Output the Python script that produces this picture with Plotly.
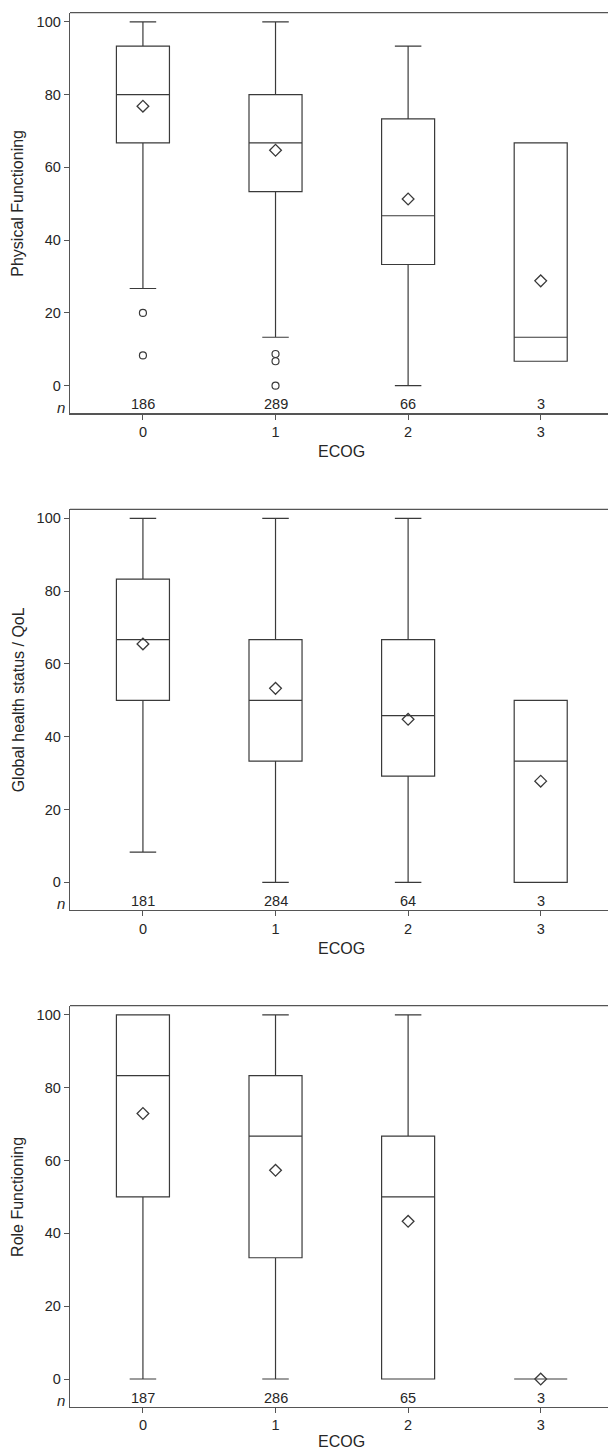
import plotly.graph_objects as go

# ---------------- data ----------------
ecog = [0, 1, 2, 3]
ecog_labels = ["0", "1", "2", "3"]

titles = ["Physical Functioning", "Global health status / QoL", "Role Functioning"]

pf_q1 = [66.7, 53.3, 33.3, 6.7]
pf_med = [80.0, 66.7, 46.7, 13.3]
pf_q3 = [93.3, 80.0, 73.3, 66.7]
pf_lo = [26.7, 13.3, 0.0, 6.7]
pf_hi = [100.0, 100.0, 93.3, 66.7]
pf_mean = [76.8, 64.7, 51.3, 28.8]
pf_out_x = [0, 0, 1, 1, 1]
pf_out_y = [20.0, 8.3, 8.7, 6.7, 0.0]
pf_n = [186, 289, 66, 3]

ql_q1 = [50.0, 33.3, 29.2, 0.0]
ql_med = [66.7, 50.0, 45.8, 33.3]
ql_q3 = [83.3, 66.7, 66.7, 50.0]
ql_lo = [8.3, 0.0, 0.0, 0.0]
ql_hi = [100.0, 100.0, 100.0, 50.0]
ql_mean = [65.5, 53.3, 44.8, 27.8]
ql_out_x = []
ql_out_y = []
ql_n = [181, 284, 64, 3]

rf_q1 = [50.0, 33.3, 0.0, 0.0]
rf_med = [83.3, 66.7, 50.0, 0.0]
rf_q3 = [100.0, 83.3, 66.7, 0.0]
rf_lo = [0.0, 0.0, 0.0, 0.0]
rf_hi = [100.0, 100.0, 100.0, 0.0]
rf_mean = [72.9, 57.3, 43.3, 0.0]
rf_out_x = []
rf_out_y = []
rf_n = [187, 286, 65, 3]

y_ticks = [0, 20, 40, 60, 80, 100]

panels = [
    (pf_q1, pf_med, pf_q3, pf_lo, pf_hi, pf_mean, pf_out_x, pf_out_y, pf_n),
    (ql_q1, ql_med, ql_q3, ql_lo, ql_hi, ql_mean, ql_out_x, ql_out_y, ql_n),
    (rf_q1, rf_med, rf_q3, rf_lo, rf_hi, rf_mean, rf_out_x, rf_out_y, rf_n),
]

# ---------------- layout geometry ----------------
W, H = 608, 1451
FONT = "Liberation Sans, Arial, sans-serif"
LINE = "#3a3a3a"
AXIS = "#555555"
TEXT = "#262626"
x_left_px = 70.0
x_domain = [x_left_px / W, 1.0]
x_range = [-0.55, 3.5075]
y_range = [-7.6, 102.5]
panel_tops = [12.7, 509.3, 1005.7]
panel_bottoms = [413.3, 910.0, 1406.7]
ecog_title_y = [451.7, 948.0, 1441.0]

fig = go.Figure()
layout = dict(
    width=W, height=H,
    margin=dict(l=0, r=0, t=0, b=0),
    paper_bgcolor="white", plot_bgcolor="white",
    showlegend=False,
    font=dict(family=FONT, size=14, color=TEXT),
)
annotations = []
shapes = []

for i, (q1, med, q3, lo, hi, mn, ox, oy, n) in enumerate(panels):
    k = "" if i == 0 else str(i + 1)
    xa, ya = "x" + k, "y" + k
    fig.add_trace(go.Box(
        x=ecog, q1=q1, median=med, q3=q3, lowerfence=lo, upperfence=hi,
        width=0.4, whiskerwidth=0.5, boxpoints=False,
        fillcolor="white", line=dict(color=LINE, width=1.2),
        xaxis=xa, yaxis=ya, hoverinfo="skip",
    ))
    fig.add_trace(go.Scatter(
        x=ecog, y=mn, mode="markers",
        marker=dict(symbol="diamond-open", size=9, color=LINE, line=dict(width=1.3, color=LINE)),
        xaxis=xa, yaxis=ya, hoverinfo="skip",
    ))
    if ox:
        fig.add_trace(go.Scatter(
            x=ox, y=oy, mode="markers",
            marker=dict(symbol="circle-open", size=7, color=LINE, line=dict(width=1.2, color=LINE)),
            xaxis=xa, yaxis=ya, hoverinfo="skip",
        ))
    top = 1 - panel_tops[i] / H
    bot = 1 - panel_bottoms[i] / H
    layout["xaxis" + k] = dict(
        domain=x_domain, range=x_range, anchor=ya,
        tickmode="array", tickvals=ecog, ticktext=ecog_labels,
        ticks="outside", ticklen=5, tickwidth=1, tickcolor=AXIS,
        showline=True, linecolor=AXIS, linewidth=1.3,
        showgrid=False, zeroline=False,
        tickfont=dict(family=FONT, size=14.5, color=TEXT),
    )
    layout["yaxis" + k] = dict(
        domain=[bot, top], range=y_range, anchor=xa,
        tickmode="array", tickvals=y_ticks,
        ticks="outside", ticklen=5, tickwidth=1, tickcolor=AXIS,
        showline=True, linecolor=AXIS, linewidth=1.3,
        showgrid=False, zeroline=False,
        tickfont=dict(family=FONT, size=14.5, color=TEXT),
    )
    # top frame line
    shapes.append(dict(type="line", xref=xa + " domain", yref=ya + " domain",
                       x0=0, x1=1, y0=1, y1=1, line=dict(color=AXIS, width=1.3)))
    # n counts
    for xv, nv in zip(ecog, n):
        annotations.append(dict(x=xv, y=-5.1, xref=xa, yref=ya, text=str(nv),
                                showarrow=False, xanchor="center", yanchor="middle",
                                font=dict(family=FONT, size=14.5, color=TEXT)))
    annotations.append(dict(x=61 / W, y=-5.9, xref="paper", yref=ya, text="<i>n</i>",
                            showarrow=False, xanchor="center", yanchor="middle",
                            font=dict(family=FONT, size=15, color=TEXT)))
    # y title
    annotations.append(dict(x=18 / W, y=50, xref="paper", yref=ya, text=titles[i],
                            textangle=-90, showarrow=False, xanchor="center", yanchor="middle",
                            font=dict(family=FONT, size=16, color=TEXT)))
    # x title
    annotations.append(dict(x=341.5 / W, y=1 - ecog_title_y[i] / H, xref="paper", yref="paper",
                            text="ECOG", showarrow=False, xanchor="center", yanchor="middle",
                            font=dict(family=FONT, size=16, color=TEXT)))

layout["annotations"] = annotations
layout["shapes"] = shapes
fig.update_layout(**layout)
fig.write_html("out.html", config={"displayModeBar": False, "staticPlot": True},
               post_script="document.body.style.margin='0';document.body.style.overflow='hidden';")
